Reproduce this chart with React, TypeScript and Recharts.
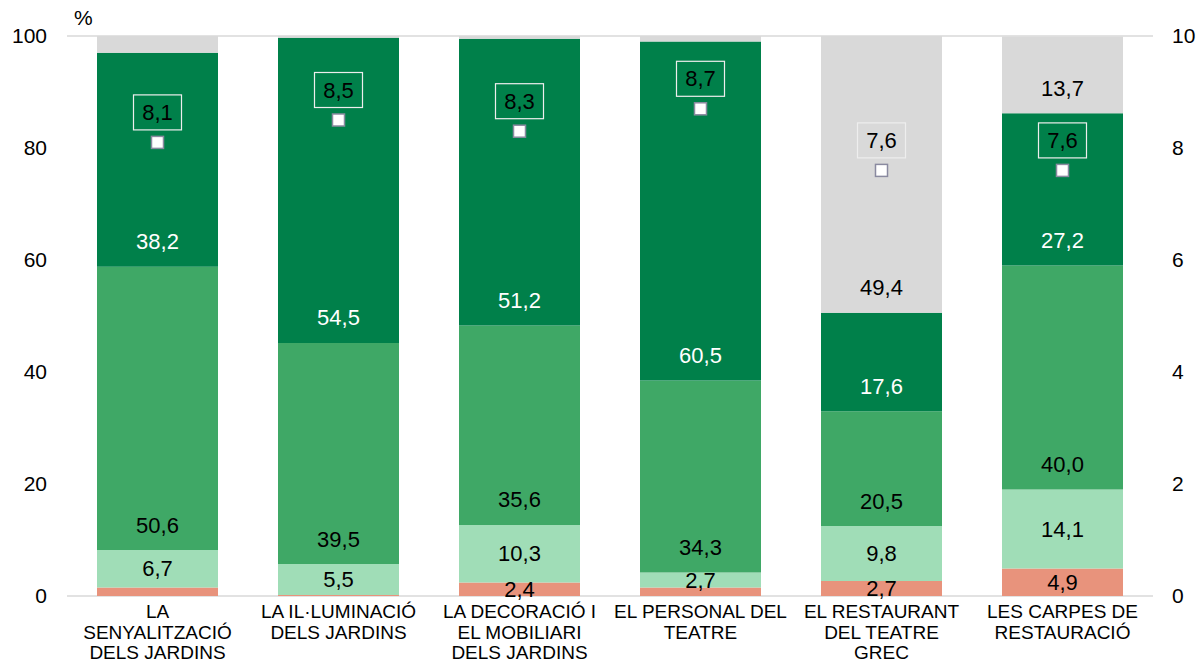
import React from 'react';
import { ComposedChart, Bar, Line, XAxis, YAxis, CartesianGrid, LabelList } from 'recharts';

const categories = [
  'LA\nSENYALITZACIÓ\nDELS JARDINS',
  'LA IL·LUMINACIÓ\nDELS JARDINS',
  'LA DECORACIÓ I\nEL MOBILIARI\nDELS JARDINS',
  'EL PERSONAL DEL\nTEATRE',
  'EL RESTAURANT\nDEL TEATRE\nGREC',
  'LES CARPES DE\nRESTAURACIÓ',
];

// stacked shares (%) from bottom to top
const salmon = [1.5, 0.2, 2.4, 1.5, 2.7, 4.9];
const lightGreen = [6.7, 5.5, 10.3, 2.7, 9.8, 14.1];
const midGreen = [50.6, 39.5, 35.6, 34.3, 20.5, 40.0];
const darkGreen = [38.2, 54.5, 51.2, 60.5, 17.6, 27.2];
const grey = [3.0, 0.3, 0.5, 1.0, 49.4, 13.7];

// average rating (right axis, 0-10)
const rating = [8.1, 8.5, 8.3, 8.7, 7.6, 7.6];

const leftTicks = [0, 20, 40, 60, 80, 100];
const rightTicks = [0, 2, 4, 6, 8, 10];

const COLORS = {
  salmon: '#e8937c',
  light: '#a0ddb7',
  mid: '#3fa866',
  dark: '#00804a',
  grey: '#d9d9d9',
};

const data = categories.map((name, i) => ({
  name,
  salmon: salmon[i],
  light: lightGreen[i],
  mid: midGreen[i],
  dark: darkGreen[i],
  grey: grey[i],
  rating: rating[i],
}));

const FONT = '"Liberation Sans", Arial, sans-serif';
const fmt = (v: number) => v.toFixed(1).replace('.', ',');

// label centred in its segment
const centreLabel = (minVal: number, color = '#000') => (props: any) => {
  const { x, y, width, height, value } = props;
  if (value == null || value < minVal) return null;
  return (
    <text
      x={x + width / 2}
      y={y + height / 2}
      textAnchor="middle"
      dominantBaseline="central"
      fontSize={22}
      fontFamily={FONT}
      fill={color}
    >
      {fmt(value)}
    </text>
  );
};

// label sitting near the bottom of its segment
const baseLabel = (minVal: number, color = '#000') => (props: any) => {
  const { x, y, width, height, value } = props;
  if (value == null || value < minVal) return null;
  return (
    <text
      x={x + width / 2}
      y={y + height - 25}
      textAnchor="middle"
      dominantBaseline="central"
      fontSize={22}
      fontFamily={FONT}
      fill={color}
    >
      {fmt(value)}
    </text>
  );
};

const ratingLabel = (props: any) => {
  const { x, y, value } = props;
  const cy = y - 30;
  return (
    <g>
      <rect x={x - 24} y={cy - 17.5} width={48} height={35} fill="none" stroke="#eeeeee" strokeWidth={1.2} />
      <text x={x} y={cy} textAnchor="middle" dominantBaseline="central" fontSize={22} fontFamily={FONT} fill="#000">
        {fmt(value)}
      </text>
    </g>
  );
};

const SquareDot = (props: any) => {
  const { cx, cy } = props;
  if (cx == null || cy == null) return null;
  return <rect x={cx - 6} y={cy - 6} width={12} height={12} fill="#ffffff" stroke="#8a8aa0" strokeWidth={1.5} />;
};

const CategoryTick = (props: any) => {
  const { x, y, payload } = props;
  const lines = String(payload.value).split('\n');
  return (
    <text x={x} y={y} textAnchor="middle" fontSize={19} fontFamily={FONT} fill="#000">
      {lines.map((l, i) => (
        <tspan key={i} x={x} dy={i === 0 ? 22 : 20.5}>
          {l}
        </tspan>
      ))}
    </text>
  );
};

export default function App() {
  return (
    <div style={{ position: 'absolute', left: 0, top: 0, width: 1197, height: 662, background: '#fff' }}>
      <div
        style={{
          position: 'absolute',
          left: 74,
          top: 6,
          fontSize: 21,
          fontFamily: FONT,
          color: '#000',
        }}
      >
        %
      </div>
      <ComposedChart width={1197} height={662} data={data} margin={{ top: 36, right: 0, bottom: 0, left: 0 }}>
        <CartesianGrid vertical={false} stroke="#d9d9d9" strokeWidth={1.5} />
        <XAxis
          dataKey="name"
          axisLine={false}
          tickLine={false}
          tickSize={0}
          tickMargin={0}
          height={66}
          interval={0}
          tick={<CategoryTick />}
        />
        <YAxis
          yAxisId="left"
          domain={[0, 100]}
          ticks={leftTicks}
          width={67}
          axisLine={false}
          tickLine={false}
          tickSize={0}
          tickMargin={20}
          tick={{ fontSize: 21, fontFamily: FONT, fill: '#000' }}
        />
        <YAxis
          yAxisId="right"
          orientation="right"
          domain={[0, 10]}
          ticks={rightTicks}
          width={44}
          axisLine={false}
          tickLine={false}
          tickSize={0}
          tickMargin={19}
          tick={{ fontSize: 21, fontFamily: FONT, fill: '#000', textAnchor: 'start' }}
        />
        <Bar yAxisId="left" dataKey="salmon" stackId="a" fill={COLORS.salmon} barSize={121} isAnimationActive={false}>
          <LabelList dataKey="salmon" content={centreLabel(2)} />
        </Bar>
        <Bar yAxisId="left" dataKey="light" stackId="a" fill={COLORS.light} barSize={121} isAnimationActive={false}>
          <LabelList dataKey="light" content={centreLabel(2)} />
        </Bar>
        <Bar yAxisId="left" dataKey="mid" stackId="a" fill={COLORS.mid} barSize={121} isAnimationActive={false}>
          <LabelList dataKey="mid" content={baseLabel(2)} />
        </Bar>
        <Bar yAxisId="left" dataKey="dark" stackId="a" fill={COLORS.dark} barSize={121} isAnimationActive={false}>
          <LabelList dataKey="dark" content={baseLabel(2, '#ffffff')} />
        </Bar>
        <Bar yAxisId="left" dataKey="grey" stackId="a" fill={COLORS.grey} barSize={121} isAnimationActive={false}>
          <LabelList dataKey="grey" content={baseLabel(5)} />
        </Bar>
        <Line
          yAxisId="right"
          dataKey="rating"
          stroke="none"
          dot={<SquareDot />}
          activeDot={false}
          isAnimationActive={false}
        >
          <LabelList dataKey="rating" content={ratingLabel} />
        </Line>
      </ComposedChart>
    </div>
  );
}
